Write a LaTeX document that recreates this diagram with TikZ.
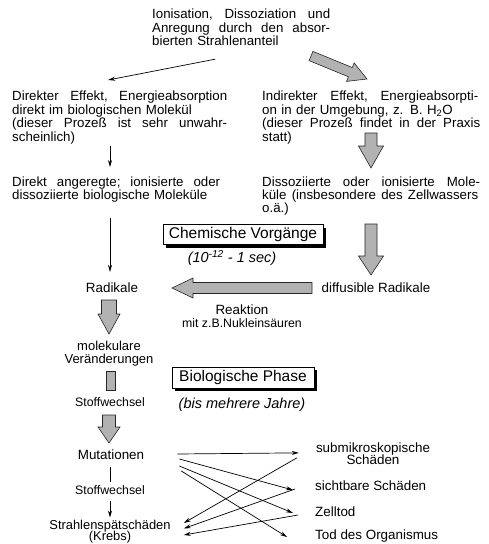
\documentclass[tikz,border=0pt]{standalone}
\usepackage{fontspec}
\setmainfont{Liberation Sans}
\usetikzlibrary{calc,arrows.meta,shadows}
\setlength\lineskiplimit{-100pt}
\newcommand\jl[2]{\leavevmode\hbox to #1{\frenchspacing\spaceskip=.278em plus 1fil\relax #2}}
% fat arrow: #1 tail, #2 tip, #3 half shaft, #4 half head, #5 head length
\newcommand\fatarrow[5]{%
  \coordinate (fah) at ($(#2)!#5!(#1)$);
  \path[fat] ($(#1)!#3!90:(#2)$) -- ($(fah)!#3!90:(#2)$) -- ($(fah)!#4!90:(#2)$) -- (#2)
     -- ($(fah)!#4!-90:(#2)$) -- ($(fah)!#3!-90:(#2)$) -- ($(#1)!#3!-90:(#2)$) -- cycle;}
\begin{document}
\begin{tikzpicture}[x=1pt,y=-1pt,
  txt/.style={inner sep=0pt, font=\fontsize{13.4}{13.4}\selectfont},
  blk/.style={txt, align=left, anchor=north west},
  small/.style={inner sep=0pt, font=\fontsize{12.3}{12.3}\selectfont},
  note/.style={inner sep=0pt, font=\fontsize{14.5}{14.5}\selectfont\itshape},
  phase/.style={draw, fill=white, line width=0.6pt, inner sep=0pt, minimum height=20pt,
    font=\fontsize{15.5}{15.5}\selectfont,
    drop shadow={shadow xshift=3pt, shadow yshift=-3pt, fill=black, opacity=1}},
  fat/.style={fill=black!30, draw=black!85, line width=0.6pt, line join=miter},
  arr/.style={line width=0.7pt, -{Stealth[length=7pt,width=4pt]}},
  ln/.style={line width=0.7pt}]
\useasboundingbox (0,0) rectangle (488,544);

% text blocks
\node[blk, text width=178pt, font=\fontsize{13.3}{13.5}\selectfont] (top) at (152,9)
  {\jl{178pt}{Ionisation, Dissoziation und}\\\jl{178pt}{Anregung durch den absor-}\\bierten Strahlenanteil};
\node[blk, text width=215pt, font=\fontsize{13.3}{12.2}\selectfont] (lb1) at (12,91)
  {\jl{215pt}{Direkter Effekt, Energieabsorption}\\direkt im biologischen Molekül\\\jl{215pt}{(dieser Prozeß ist sehr unwahr-}\\scheinlich)};
\node[blk, text width=218pt, font=\fontsize{13.3}{12.2}\selectfont] (rb1) at (262,91)
  {\jl{216pt}{Indirekter Effekt, Energieabsorpti-}\\on in der Umgebung, z. B. H\textsubscript{2}O\\\jl{218pt}{(dieser Prozeß findet in der Praxis}\\statt)};
\node[blk, text width=208pt, font=\fontsize{13.3}{12.5}\selectfont] (lb2) at (12,177)
  {\jl{208pt}{Direkt angeregte; ionisierte oder}\\dissoziierte biologische Moleküle};
\node[blk, text width=218pt, font=\fontsize{13.3}{13}\selectfont] (rb2) at (262,177)
  {\jl{218pt}{Dissoziierte oder ionisierte Mole-}\\\jl{216pt}{küle (insbesondere des Zellwassers}\\o.ä.)};

\node[phase, minimum width=160pt] (chem) at (243,234.5) {Chemische Vorgänge};
\node[note] (chemt) at (232,258) {(10\textsuperscript{-12} - 1 sec)};

\node[txt] (rad) at (112,288) {Radikale};
\node[txt] (dif) at (376,288) {diffusible Radikale};
\node[txt] (reak) at (242,310) {Reaktion};
\node[small] (nuk) at (242,323) {mit z.B.Nukleinsäuren};
\node[txt, align=center, anchor=north, font=\fontsize{13}{12.5}\selectfont] (mol) at (109,341) {molekulare\\Veränderungen};
\node[small] (sw1) at (110,402) {Stoffwechsel};
\node[phase, minimum width=142pt, minimum height=21pt] (bio) at (243,377.5) {Biologische Phase};
\node[note] (biot) at (242,405) {(bis mehrere Jahre)};
\node[txt] (mut) at (111,455) {Mutationen};
\node[small] (sw2) at (110,490) {Stoffwechsel};
\node[txt, align=center, anchor=north, font=\fontsize{12.9}{11.8}\selectfont] (spaet) at (110,519.5) {Strahlenspätschäden\\(Krebs)};
\node[txt, align=center, anchor=north, font=\fontsize{13.4}{12.5}\selectfont] (sub) at (373,442.5) {submikroskopische\\Schäden};
\node[txt, anchor=west] (sicht) at (315,486) {sichtbare Schäden};
\node[txt, anchor=west] (zell) at (315,512) {Zelltod};
\node[txt, anchor=west] (tod) at (315,536) {Tod des Organismus};

% thin connectors
\draw[arr] ($(top.south)+(-26,13)$) -- ($(lb1.north)+(-11.5,-11)$);
\draw[arr] ($(lb1.south west)+(98,2)$) -- ($(lb2.north west)+(98,-10)$);
\draw[arr] ($(lb2.south west)+(98,16)$) -- ($(rad.north)+(-2,-11)$);
\draw[ln] ($(mut.south)+(-1,7)$) -- ($(sw2.north)+(0,-3)$);
\draw[arr] ($(sw2.south)+(0,6)$) -- ($(spaet.north)+(0,-2)$);

\draw[arr] ($(mut.east)+(33,-1)$) -- ($(sub.west)+(-17,-1)$);
\draw[arr] ($(mut.east)+(35,4)$) -- ($(sicht.west)+(-22,4)$);
\draw[arr] ($(mut.east)+(35,11)$) -- ($(zell.west)+(-22,1)$);
\draw[arr] ($(mut.east)+(37,16)$) -- ($(tod.west)+(-28,1)$);
\draw[arr] ($(sub.west)+(-19,4)$) -- ($(spaet.north east)+(13,3.5)$);
\draw[arr] ($(sicht.west)+(-20,3)$) -- ($(spaet.north east)+(13,9)$);
\draw[arr] ($(zell.west)+(-17,3)$) -- ($(spaet.north east)+(13,15.5)$);

% fat arrows
\coordinate (f1a) at (311,56);  \coordinate (f1b) at (367,79);
\fatarrow{f1a}{f1b}{5pt}{10pt}{18pt}
\coordinate (f2a) at (371,133); \coordinate (f2b) at (371,168);
\fatarrow{f2a}{f2b}{6pt}{12.5pt}{22pt}
\coordinate (f3a) at (371,224); \coordinate (f3b) at (371,275);
\fatarrow{f3a}{f3b}{6pt}{12.5pt}{19pt}
\coordinate (f4a) at (312,288); \coordinate (f4b) at (172,288);
\fatarrow{f4a}{f4b}{5.5pt}{10pt}{21pt}
\coordinate (f5a) at (109,300); \coordinate (f5b) at (109,334);
\fatarrow{f5a}{f5b}{7.5pt}{11pt}{20pt}
\coordinate (f6a) at (109,415); \coordinate (f6b) at (109,443);
\fatarrow{f6a}{f6b}{6.5pt}{11pt}{16pt}
\path[fat] (106,371) rectangle (115,390);
\end{tikzpicture}
\end{document}
